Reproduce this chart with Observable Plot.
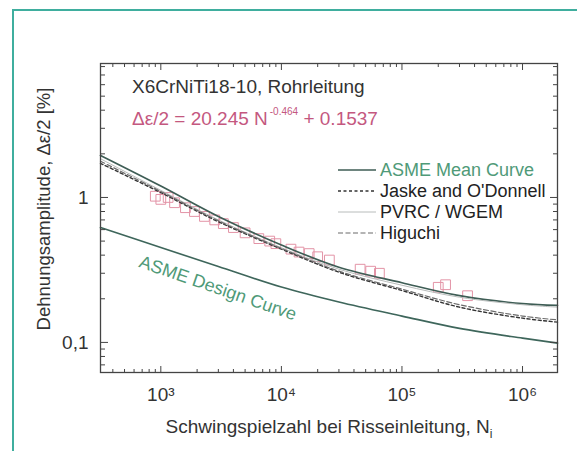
<!DOCTYPE html>
<html><head><meta charset="utf-8">
<script src="https://cdn.jsdelivr.net/npm/d3@7"></script>
<script src="https://cdn.jsdelivr.net/npm/@observablehq/plot@0.6"></script>
<style>
html,body{margin:0;padding:0;background:#fff;overflow:hidden;width:577px;height:451px}
body{position:relative;font-family:"Liberation Sans",Arial,sans-serif}
#border{position:absolute;left:12px;top:9px;width:620px;height:520px;border:2px solid #3fae9e;box-sizing:border-box}
#chart{position:absolute;left:0;top:0}
</style></head><body><div id="border"></div><div id="chart"></div>
<script>
// ---- data ----
const cycles = [316, 1000, 3000, 10000, 30000, 100000, 300000, 1000000, 1950000];
const asmeMean = [1.95, 1.2, 0.74, 0.47, 0.33, 0.258, 0.21, 0.185, 0.18];
const jaske = [1.72, 1.08, 0.68, 0.44, 0.305, 0.228, 0.175, 0.147, 0.138];
const pvrc = [1.85, 1.12, 0.70, 0.45, 0.32, 0.248, 0.205, 0.182, 0.175];
const higuchi = [1.78, 1.10, 0.69, 0.445, 0.31, 0.233, 0.182, 0.152, 0.143];
const asmeDesign = [0.62, 0.452, 0.334, 0.241, 0.19, 0.152, 0.125, 0.107, 0.099];

const testN = [900, 1000, 1150, 1300, 1600, 1900, 2300, 2800, 3300, 4000, 5000, 6500, 8000, 9000, 12000, 14000, 17000, 20000, 25000, 45000, 55000, 65000, 200000, 230000, 350000];
const testStrain = [1.02, 0.97, 1.0, 0.92, 0.85, 0.8, 0.74, 0.7, 0.66, 0.62, 0.57, 0.52, 0.5, 0.48, 0.44, 0.42, 0.41, 0.39, 0.37, 0.32, 0.31, 0.3, 0.24, 0.25, 0.21];

const xMajor = [1e3, 1e4, 1e5, 1e6];
const xMajorLabels = ["10³", "10⁴", "10⁵", "10⁶"];
const yMajor = [0.1, 1];
const yMajorLabels = ["0,1", "1"];

const titleText = "X6CrNiTi18-10, Rohrleitung";
const formulaMain = "Δε/2 = 20.245 N";
const formulaExp = "-0.464";
const formulaTail = " + 0.1537";
const xLabel = "Schwingspielzahl bei Risseinleitung, N";
const xLabelSub = "i";
const yLabel = "Dehnungsamplitude, Δε/2 [%]";
const designLabel = "ASME Design Curve";
const legendNames = ["ASME Mean Curve", "Jaske and O'Donnell", "PVRC / WGEM", "Higuchi"];

// ---- styles ----
const styles = {
  "ASME Mean Curve": {stroke: "#3e5d55", strokeWidth: 1.7, dash: null},
  "Jaske and O'Donnell": {stroke: "#333", strokeWidth: 1.4, dash: "3,2.5"},
  "PVRC / WGEM": {stroke: "#b8bcbb", strokeWidth: 1, dash: null},
  "Higuchi": {stroke: "#6a6a6a", strokeWidth: 1.2, dash: "5,2.5"},
  "ASME Design Curve": {stroke: "#3e665b", strokeWidth: 1.7, dash: null}
};
const seriesValues = {
  "ASME Mean Curve": asmeMean,
  "Jaske and O'Donnell": jaske,
  "PVRC / WGEM": pvrc,
  "Higuchi": higuchi,
  "ASME Design Curve": asmeDesign
};

function minorTicks(lo, hi) {
  const t = [];
  for (let e = -3; e <= 7; e++) for (let m = 2; m <= 9; m++) {
    const v = m * Math.pow(10, e);
    if (v > lo && v < hi) t.push(v);
  }
  return t;
}
const xDomain = [316, 1.95e6];
const yDomain = [0.062, 8.4];
const xMinor = minorTicks(xDomain[0], xDomain[1]);
const yMinor = minorTicks(yDomain[0], yDomain[1]);

const W = 577, H = 451, ML = 100, MR = 20, MT = 63, MB = 79;
const innerW = W - ML - MR, innerH = H - MT - MB;

const lineMarks = Object.keys(seriesValues).map(name => {
  const s = styles[name];
  const rows = cycles.map((n, i) => ({n, v: seriesValues[name][i]}));
  return Plot.line(rows, {x: "n", y: "v", stroke: s.stroke, strokeWidth: s.strokeWidth,
    strokeDasharray: s.dash, curve: "catmull-rom"});
});
const points = testN.map((n, i) => ({n, v: testStrain[i]}));

const noText = () => "";
const tickOpts = {tickFormat: noText, label: null, stroke: "#444"};
// inward ticks: an axis anchored on the opposite side, shifted across the frame
// (both shift signs are given; the wrong one lands outside the SVG and is clipped)
const inwardTicks = [];
for (const [ticks, size] of [[xMajor, 7], [xMinor, 4]]) {
  for (const anchor of ["top", "bottom"]) for (const s of [1, -1])
    inwardTicks.push(Plot.axisX({anchor, ticks, tickSize: size, dy: s * innerH, ...tickOpts}));
}
for (const [ticks, size] of [[yMajor, 7], [yMinor, 4]]) {
  for (const anchor of ["left", "right"]) for (const s of [1, -1])
    inwardTicks.push(Plot.axisY({anchor, ticks, tickSize: size, dx: s * innerW, ...tickOpts}));
}

const plot = Plot.plot({
  width: W, height: H,
  marginLeft: ML, marginRight: MR, marginTop: MT, marginBottom: MB,
  style: {fontFamily: '"Liberation Sans", Arial, sans-serif', fontSize: "19px", background: "transparent", color: "#333", overflow: "hidden"},
  x: {type: "log", domain: xDomain, label: null},
  y: {type: "log", domain: yDomain, label: null},
  marks: [
    Plot.dot(points, {x: "n", y: "v", symbol: "square", r: 5.5, stroke: "#e393a6", strokeWidth: 1, fill: "none"}),
    ...lineMarks,
    // tick labels
    Plot.axisX({ticks: xMajor, tickSize: 0, tickPadding: 15, tickFormat: d => xMajorLabels[xMajor.indexOf(d)], fontSize: 19, fill: "#333", label: null}),
    Plot.axisY({ticks: yMajor, tickSize: 0, tickPadding: 12, tickFormat: d => yMajorLabels[yMajor.indexOf(d)], fontSize: 19, fill: "#333", label: null}),
    ...inwardTicks,
    Plot.frame({stroke: "#444", strokeWidth: 1.3})
  ]
});
document.getElementById("chart").appendChild(plot);

// ---- annotations, labels, legend ----
const svg = d3.select(plot);
const ff = '"Liberation Sans", Arial, sans-serif';
const g = svg.append("g").attr("font-family", ff).attr("text-anchor", "start");

g.append("text").attr("x", 132).attr("y", 93).attr("font-size", 19).attr("fill", "#333").text(titleText);
const f = g.append("text").attr("x", 132).attr("y", 125).attr("font-size", 19).attr("fill", "#c4587f");
f.append("tspan").text(formulaMain);
f.append("tspan").attr("font-size", 10).attr("dy", -10).attr("dx", 2).text(formulaExp);
f.append("tspan").attr("dy", 10).text(formulaTail);

g.append("text").attr("transform", "translate(218,288) rotate(19)").attr("text-anchor", "middle")
  .attr("dominant-baseline", "central").attr("font-size", 18).attr("fill", "#4f9a78").text(designLabel);

const xl = g.append("text").attr("x", 329).attr("y", 433).attr("text-anchor", "middle").attr("font-size", 19).attr("fill", "#333");
xl.append("tspan").text(xLabel);
xl.append("tspan").attr("font-size", 12).attr("dy", 5).text(xLabelSub);

g.append("text").attr("transform", "translate(43,209) rotate(-90)").attr("text-anchor", "middle")
  .attr("dominant-baseline", "central").attr("font-size", 18.5).attr("fill", "#333").text(yLabel);

legendNames.forEach((name, i) => {
  const yc = 170 + i * 21;
  const s = styles[name];
  g.append("line").attr("x1", 338).attr("x2", 376).attr("y1", yc).attr("y2", yc)
    .attr("stroke", s.stroke).attr("stroke-width", s.strokeWidth).attr("stroke-dasharray", s.dash);
  g.append("text").attr("x", 380).attr("y", yc).attr("dominant-baseline", "central").attr("font-size", 18)
    .attr("fill", i === 0 ? "#4f9a78" : "#222").text(name);
});
</script>
</body></html>
